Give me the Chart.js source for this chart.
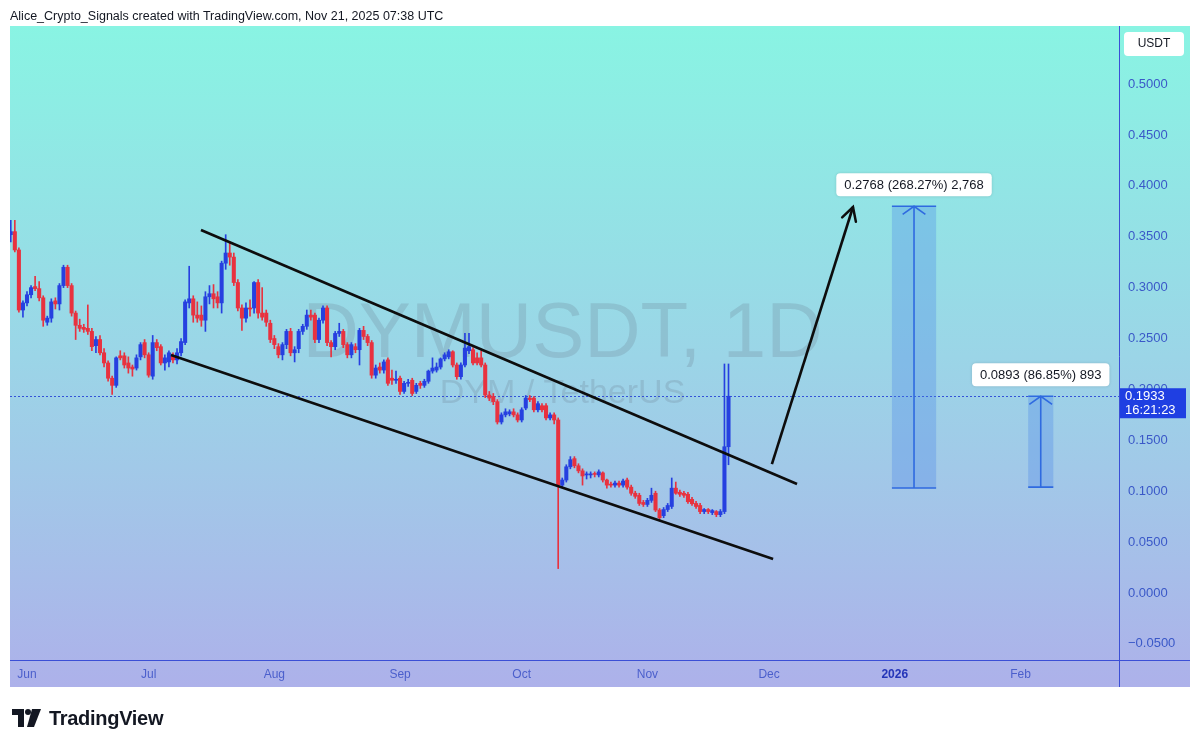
<!DOCTYPE html>
<html>
<head>
<meta charset="utf-8">
<script src="https://cdn.jsdelivr.net/npm/chart.js@4.4.0/dist/chart.umd.min.js"></script>
<style>
html,body{margin:0;padding:0;background:#fff;width:1200px;height:747px;overflow:hidden}
#cv{position:absolute;left:0;top:0}
#hdr{position:absolute;left:10px;top:9px;font:12.5px "Liberation Sans",Arial,sans-serif;color:#131722;white-space:nowrap}
#logo{position:absolute;left:12px;top:706px;height:24px;display:flex;align-items:center}
#logo span{font:bold 20px "Liberation Sans",Arial,sans-serif;color:#131722;margin-left:7px;letter-spacing:-0.3px}
</style>
</head>
<body>
<canvas id="cv" width="1200" height="747"></canvas>
<div id="hdr">Alice_Crypto_Signals created with TradingView.com, Nov 21, 2025 07:38 UTC</div>
<div id="logo"><svg width="30" height="20" viewBox="0 0 30 20"><path d="M0 1h12v18h-6v-12h-6z" fill="#131722"/><circle cx="16" cy="4" r="3" fill="#131722"/><path d="M20 1h9l-7 18h-7z" fill="#131722"/></svg><span>TradingView</span></div>
<script>
// ---- DATA (day index 0 = Jun 1, 2025; one candle per day) ----
const firstDay = -4;
const opens = [
 .352,.355,.337,.278,.285,.293,.301,.299,.290,.266,
 .270,.287,.284,.302,.320,.302,.275,.263,.261,.260,
 .257,.243,.249,.236,.226,.211,.204,.233,.233,.226,
 .222,.221,.232,.246,.234,.213,.246,.242,.226,.227,
 .233,.229,.236,.246,.285,.289,.273,.273,.268,.291,
 .294,.291,.285,.324,.334,.330,.305,.280,.270,.280,
 .280,.305,.275,.275,.265,.250,.242,.234,.244,.257,
 .236,.240,.257,.262,.273,.273,.249,.268,.280,.246,
 .242,.255,.257,.244,.234,.242,.239,.258,.252,.246,
 .214,.222,.219,.229,.211,.209,.211,.198,.206,.209,
 .198,.206,.204,.208,.218,.219,.222,.230,.232,.237,
 .224,.2125,.224,.238,.239,.231,.231,.224,.1945,.193,
 .188,.168,.175,.176,.178,.175,.170,.1817,.1915,.1915,
 .180,.184,.184,.172,.175,.170,.106,.111,.124,.132,
 .125,.120,.116,.116,.117,.116,.118,.111,.107,.106,
 .108,.106,.111,.104,.098,.096,.089,.087,.091,.098,
 .0815,.076,.082,.085,.103,.099,.098,.097,.092,.088,
 .086,.080,.082,.079,.080,.077,.080,.1437
];
const highs = [
 .366,.366,.339,.287,.296,.302,.311,.306,.292,.272,
 .289,.290,.304,.322,.322,.304,.277,.269,.264,.283,
 .260,.252,.253,.240,.228,.213,.232,.238,.236,.232,
 .224,.234,.246,.249,.236,.253,.249,.244,.234,.238,
 .236,.240,.250,.288,.321,.292,.286,.282,.296,.302,
 .303,.296,.326,.352,.345,.334,.308,.283,.285,.288,
 .306,.308,.300,.278,.268,.253,.245,.246,.259,.260,
 .242,.259,.264,.278,.278,.275,.270,.282,.282,.248,
 .257,.265,.259,.246,.246,.245,.260,.262,.254,.248,
 .224,.226,.229,.231,.219,.218,.213,.208,.210,.211,
 .206,.208,.210,.219,.231,.226,.231,.236,.239,.238,
 .226,.226,.255,.255,.241,.236,.238,.226,.198,.196,
 .190,.177,.181,.180,.181,.177,.182,.194,.194,.193,
 .188,.186,.186,.177,.177,.172,.113,.126,.134,.134,
 .127,.122,.119,.119,.119,.121,.119,.112,.109,.110,
 .110,.112,.113,.106,.100,.098,.091,.093,.103,.100,
 .083,.084,.088,.113,.109,.101,.100,.099,.094,.090,
 .088,.083,.083,.082,.081,.082,.225,.225
];
const lows = [
 .345,.335,.276,.271,.282,.290,.297,.287,.262,.263,
 .266,.279,.278,.300,.300,.272,.249,.257,.256,.254,
 .238,.236,.234,.222,.208,.195,.202,.229,.221,.216,
 .213,.219,.229,.231,.212,.210,.238,.224,.219,.222,
 .226,.225,.233,.244,.280,.266,.266,.262,.257,.284,
 .280,.280,.275,.318,.322,.302,.277,.258,.266,.272,
 .275,.270,.268,.262,.246,.240,.231,.229,.240,.233,
 .227,.236,.254,.259,.268,.246,.246,.265,.243,.232,
 .239,.252,.241,.231,.231,.236,.224,.249,.243,.211,
 .211,.216,.216,.204,.205,.206,.195,.196,.203,.194,
 .196,.201,.202,.206,.216,.217,.220,.228,.230,.222,
 .210,.210,.222,.235,.224,.224,.222,.192,.189,.185,
 .166,.166,.173,.174,.173,.168,.168,.180,.188,.178,
 .178,.178,.170,.170,.166,.024,.104,.109,.122,.123,
 .118,.106,.112,.113,.114,.114,.109,.103,.104,.104,
 .104,.104,.102,.096,.093,.086,.085,.085,.089,.080,
 .072,.074,.080,.083,.097,.095,.094,.088,.086,.083,
 .078,.078,.078,.077,.075,.075,.078,.126
];
const closes = [
 .355,.337,.278,.285,.293,.300,.299,.290,.268,.270,
 .286,.284,.302,.320,.302,.275,.263,.260,.259,.257,
 .242,.249,.236,.226,.211,.204,.231,.231,.224,.221,
 .220,.231,.244,.234,.214,.246,.241,.226,.231,.236,
 .229,.236,.247,.286,.289,.273,.270,.268,.291,.294,
 .289,.285,.324,.334,.330,.305,.280,.270,.280,.279,
 .305,.275,.271,.266,.249,.244,.234,.244,.257,.236,
 .239,.257,.262,.273,.271,.249,.268,.280,.246,.242,
 .255,.257,.244,.234,.244,.239,.258,.252,.246,.214,
 .221,.219,.227,.206,.209,.210,.198,.206,.207,.196,
 .204,.204,.208,.218,.221,.222,.230,.234,.237,.224,
 .2125,.224,.2406,.242,.226,.226,.224,.1945,.1915,.188,
 .168,.175,.178,.178,.175,.170,.180,.1915,.190,.180,
 .186,.180,.172,.175,.170,.106,.111,.124,.131,.125,
 .120,.115,.117,.117,.1165,.119,.111,.106,.106,.108,
 .106,.110,.104,.098,.095,.088,.087,.091,.096,.0815,
 .074,.082,.086,.103,.098,.097,.096,.0897,.0877,.085,
 .080,.082,.080,.081,.077,.080,.1437,.1933
];
const priceTicks = [-0.05, 0, 0.05, 0.1, 0.15, 0.2, 0.25, 0.3, 0.35, 0.4, 0.45, 0.5];
const monthTicks = [0, 30, 61, 92, 122, 153, 183, 214, 245];
const monthLabels = ['Jun','Jul','Aug','Sep','Oct','Nov','Dec','2026','Feb'];
const upperTrend = [{x:42.9, y:0.3566}, {x:189.9, y:0.1071}];
const lowerTrend = [{x:35.5, y:0.2338}, {x:184.0, y:0.0334}];
const projectionArrow = [{x:183.7, y:0.1267}, {x:203.7, y:0.3792}];
const lastPrice = 0.1933;
const lastTime = '16:21:23';
const measureLeft = [213.3, 246.9];
const measureRight = [224.2, 253.1];
const measureFrom = [0.1031, 0.1040];
const measureTo = [0.3799, 0.1933];
const measureLabels = ['0.2768 (268.27%) 2,768', '0.0893 (86.85%) 893'];
const watermark = 'DYMUSDT, 1D';
const watermarkSub = 'DYM / TetherUS';

// ---- STYLE ----
const UP = '#2640e0', DOWN = '#e8323f';
const FONT = '"Liberation Sans", Arial, sans-serif';
const AXIS = '#3b4fd6';
const days = opens.map((_, i) => firstDay + i);
const candleColors = opens.map((o, i) => closes[i] >= o ? UP : DOWN);

function rr(c, x, y, w, h, r) {
  c.beginPath(); c.moveTo(x + r, y);
  c.arcTo(x + w, y, x + w, y + h, r); c.arcTo(x + w, y + h, x, y + h, r);
  c.arcTo(x, y + h, x, y, r); c.arcTo(x, y, x + w, y, r); c.closePath();
}
function arrowHead(c, x1, y1, x2, y2, len, ang) {
  const a = Math.atan2(y2 - y1, x2 - x1);
  c.beginPath();
  c.moveTo(x2 - len * Math.cos(a - ang), y2 - len * Math.sin(a - ang));
  c.lineTo(x2, y2);
  c.lineTo(x2 - len * Math.cos(a + ang), y2 - len * Math.sin(a + ang));
  c.stroke();
}

const tvPlugin = {
  id: 'tv',
  beforeDraw(chart) {
    const c = chart.ctx; c.save();
    c.fillStyle = '#fff'; c.fillRect(0, 0, chart.width, chart.height);
    const g = c.createLinearGradient(0, 26, 0, 687);
    g.addColorStop(0, '#89f4e3'); g.addColorStop(0.5, '#9bd5e7'); g.addColorStop(1, '#adb1ea');
    c.fillStyle = g; c.fillRect(10, 26, 1180, 661);
    c.restore();
  },
  beforeDatasetsDraw(chart) {
    const c = chart.ctx, a = chart.chartArea, ys = chart.scales.y;
    c.save();
    const cx = (a.left + a.right) / 2 - 2, cy = (a.top + a.bottom) / 2;
    c.fillStyle = 'rgba(95,105,125,0.2)';
    c.textAlign = 'center'; c.textBaseline = 'alphabetic';
    c.font = '78px ' + FONT; c.fillText(watermark, cx, cy + 14);
    c.font = '34px ' + FONT; c.fillText(watermarkSub, cx, cy + 60);
    const py = Math.round(ys.getPixelForValue(lastPrice)) + 0.5;
    c.strokeStyle = '#3452d8'; c.lineWidth = 1; c.setLineDash([2, 2]);
    c.beginPath(); c.moveTo(a.left, py); c.lineTo(a.right, py); c.stroke();
    c.restore();
  },
  afterDatasetsDraw(chart) {
    const c = chart.ctx, xs = chart.scales.x, ys = chart.scales.y;
    c.save();
    // projection arrow head
    const p0 = projectionArrow[0], p1 = projectionArrow[1];
    c.strokeStyle = '#0d0d0d'; c.lineWidth = 2.5; c.lineCap = 'round';
    arrowHead(c, xs.getPixelForValue(p0.x), ys.getPixelForValue(p0.y), xs.getPixelForValue(p1.x), ys.getPixelForValue(p1.y), 15, 0.5);
    // measurement boxes
    for (let i = 0; i < measureFrom.length; i++) {
      const l = xs.getPixelForValue(measureLeft[i]), r = xs.getPixelForValue(measureRight[i]);
      const t = ys.getPixelForValue(measureTo[i]), b = ys.getPixelForValue(measureFrom[i]);
      const m = (l + r) / 2;
      c.fillStyle = 'rgba(70,130,232,0.3)'; c.fillRect(l, t, r - l, b - t);
      c.strokeStyle = '#2f6ae0'; c.lineWidth = 1.6; c.lineCap = 'butt';
      c.beginPath(); c.moveTo(l, t); c.lineTo(r, t); c.moveTo(l, b); c.lineTo(r, b);
      c.moveTo(m, b); c.lineTo(m, t); c.stroke();
      arrowHead(c, m, b, m, t, 14, 0.95);
      c.font = '13px ' + FONT;
      const tw = c.measureText(measureLabels[i]).width + 16;
      c.shadowColor = 'rgba(0,0,0,0.15)'; c.shadowBlur = 3;
      c.fillStyle = '#ffffff'; rr(c, m - tw / 2, t - 33, tw, 23, 4); c.fill();
      c.shadowBlur = 0;
      c.fillStyle = '#131722'; c.textAlign = 'center'; c.textBaseline = 'middle';
      c.fillText(measureLabels[i], m, t - 21);
    }
    c.restore();
  },
  afterDraw(chart) {
    const c = chart.ctx, a = chart.chartArea, ys = chart.scales.y;
    c.save();
    c.strokeStyle = AXIS; c.lineWidth = 1;
    c.beginPath();
    c.moveTo(a.right + 0.5, 26); c.lineTo(a.right + 0.5, 687);
    c.moveTo(10, a.bottom + 0.5); c.lineTo(1190, a.bottom + 0.5);
    c.stroke();
    // USDT box
    c.fillStyle = '#ffffff'; rr(c, a.right + 5, 32, 60, 24, 4); c.fill();
    c.fillStyle = '#131722'; c.font = '12px ' + FONT; c.textAlign = 'center'; c.textBaseline = 'middle';
    c.fillText('USDT', a.right + 35, 44);
    // last price box
    const py = ys.getPixelForValue(lastPrice);
    c.fillStyle = '#1f3fe2'; c.fillRect(a.right + 1, py - 8, 66, 30);
    c.fillStyle = '#ffffff'; c.font = '13px ' + FONT; c.textAlign = 'left';
    c.fillText(lastPrice.toFixed(4), a.right + 6, py + 0.5);
    c.fillText(lastTime, a.right + 6, py + 14);
    c.restore();
  }
};

new Chart(document.getElementById('cv'), {
  type: 'bar',
  data: {
    datasets: [
      { type: 'line', data: upperTrend, borderColor: '#0d0d0d', borderWidth: 2.6, pointRadius: 0, order: 0 },
      { type: 'line', data: lowerTrend, borderColor: '#0d0d0d', borderWidth: 2.6, pointRadius: 0, order: 0 },
      { type: 'line', data: projectionArrow, borderColor: '#0d0d0d', borderWidth: 2.6, pointRadius: 0, order: 0 },
      { type: 'bar', data: days.map((d, i) => ({ x: d, y: [opens[i], closes[i]] })), backgroundColor: candleColors,
        barThickness: 3.4, minBarLength: 1, grouped: false, order: 1 },
      { type: 'bar', data: days.map((d, i) => ({ x: d, y: [lows[i], highs[i]] })), backgroundColor: candleColors,
        barThickness: 1, grouped: false, order: 2 }
    ]
  },
  options: {
    responsive: false, animation: false,
    layout: { padding: { left: 10, right: 10, top: 26, bottom: 60 } },
    plugins: { legend: { display: false }, tooltip: { enabled: false } },
    scales: {
      x: {
        type: 'linear', min: -4.192, max: 269.3, offset: false,
        grid: { display: false, drawTicks: false }, border: { display: false },
        afterBuildTicks: s => { s.ticks = monthTicks.map(v => ({ value: v })); },
        afterFit: s => { s.height = 27; },
        ticks: {
          autoSkip: false, maxRotation: 0, padding: 7,
          callback: v => monthLabels[monthTicks.indexOf(v)],
          color: ctx => (ctx.tick && ctx.tick.value === 214) ? '#2435b8' : '#4b5fcc',
          font: ctx => ({ family: FONT, size: 12, weight: (ctx.tick && ctx.tick.value === 214) ? 'bold' : 'normal' })
        }
      },
      y: {
        position: 'right', min: -0.0658, max: 0.557,
        grid: { display: false, drawTicks: false }, border: { display: false },
        afterBuildTicks: s => { s.ticks = priceTicks.map(v => ({ value: v })); },
        afterFit: s => { s.width = 71; },
        ticks: {
          padding: 9, color: '#3a58c8', font: { family: FONT, size: 13 },
          callback: v => (v < 0 ? '\u2212' : '') + Math.abs(v).toFixed(4)
        }
      }
    }
  },
  plugins: [tvPlugin]
});
</script>
</body>
</html>
